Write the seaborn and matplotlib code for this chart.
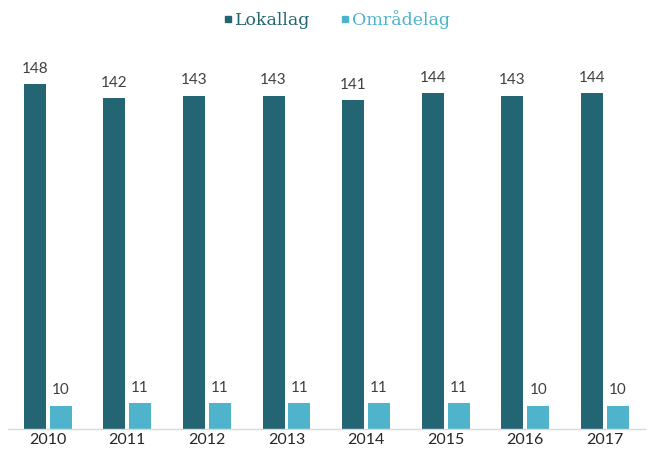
import matplotlib
matplotlib.use("Agg")
import matplotlib.pyplot as plt
import seaborn as sns
import pandas as pd
from matplotlib.lines import Line2D

years = ["2010", "2011", "2012", "2013", "2014", "2015", "2016", "2017"]
lokallag = [148, 142, 143, 143, 141, 144, 143, 144]
omradelag = [10, 11, 11, 11, 11, 11, 10, 10]
series_names = ["Lokallag", "Områdelag"]
colors = ["#246574", "#4fb3cc"]

df = pd.DataFrame({
    "year": years * 2,
    "value": lokallag + omradelag,
    "series": [series_names[0]] * len(years) + [series_names[1]] * len(years),
})

sns.set_theme(style="white")
plt.rcParams["font.family"] = ["Lato", "DejaVu Sans"]

fig = plt.figure(figsize=(6.48, 4.5), dpi=100)
ax = fig.add_axes([0.012, 0.0467, 0.983, 0.82])

sns.barplot(data=df, x="year", y="value", hue="series", palette=colors,
            width=0.65, gap=0.15, ax=ax, legend=False, saturation=1,
            linewidth=0)

for cont in ax.containers:
    ax.bar_label(cont, padding=6, fontsize=11, color="#404040")

ax.set_ylim(0, 158.3)
ax.set_xlabel("")
ax.set_ylabel("")
ax.set_yticks([])
for s in ["left", "right", "top"]:
    ax.spines[s].set_visible(False)
ax.spines["bottom"].set_color("#d9d9d9")
ax.spines["bottom"].set_linewidth(1.0)
ax.tick_params(axis="x", labelsize=11.5, colors="#262626", length=0, pad=3)

handles = [Line2D([], [], marker="s", linestyle="", color=c, markersize=5) for c in colors]
leg = fig.legend(handles, series_names, loc="upper center", bbox_to_anchor=(0.515, 1.012),
                 ncol=2, frameon=False, handletextpad=-0.2, handlelength=1.2,
                 columnspacing=1.4,
                 prop={"family": "DejaVu Serif", "size": 12.5})
for t, c in zip(leg.get_texts(), colors):
    t.set_color(c)

fig.savefig("out.png", dpi=100)
